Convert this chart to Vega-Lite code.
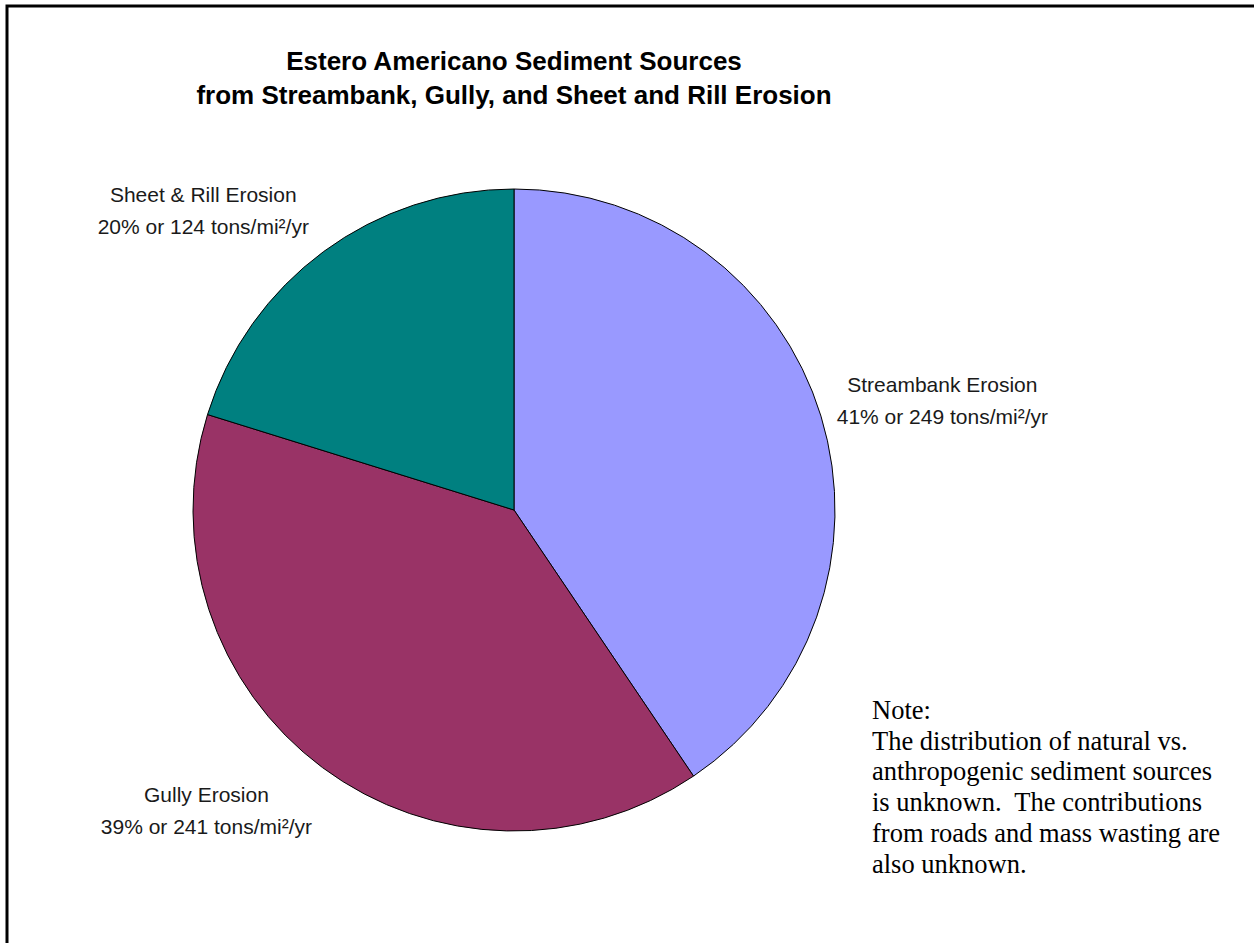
{
  "$schema": "https://vega.github.io/schema/vega-lite/v6.json",
  "width": 1260,
  "height": 950,
  "autosize": {"type": "none"},
  "padding": {"left": 7, "top": 6, "right": 0, "bottom": 0},
  "background": "white",
  "view": {"stroke": "black", "strokeWidth": 3, "fill": "white"},
  "title": {
    "text": ["Estero Americano Sediment Sources", "from Streambank, Gully, and Sheet and Rill Erosion"],
    "font": "Liberation Sans",
    "fontSize": 26,
    "fontWeight": "bold",
    "color": "black",
    "anchor": "middle",
    "frame": "group",
    "baseline": "top",
    "dx": -123,
    "offset": -103,
    "lineHeight": 34
  },
  "data": {
    "values": [
      {"source": "Streambank Erosion", "tons": 249, "pct": "41%", "order": 1},
      {"source": "Gully Erosion", "tons": 241, "pct": "39%", "order": 2},
      {"source": "Sheet & Rill Erosion", "tons": 124, "pct": "20%", "order": 3}
    ]
  },
  "layer": [
    {
      "mark": {"type": "arc", "outerRadius": 321, "x": 507, "y": 504, "stroke": "black", "strokeWidth": 1},
      "encoding": {
        "theta": {"field": "tons", "type": "quantitative", "stack": true},
        "order": {"field": "order", "type": "quantitative"},
        "color": {
          "field": "source",
          "type": "nominal",
          "scale": {"domain": ["Streambank Erosion", "Gully Erosion", "Sheet & Rill Erosion"], "range": ["#9999FF", "#993366", "#008080"]},
          "legend": null
        }
      }
    },
    {
      "transform": [{"calculate": "datum.source + '\\n' + datum.pct + ' or ' + datum.tons + ' tons/mi²/yr'", "as": "label"}],
      "mark": {
        "type": "text",
        "radius": 450,
        "x": 507,
        "y": 504,
        "font": "Liberation Sans",
        "fontSize": 21,
        "color": "#1a1a1a",
        "align": "center",
        "baseline": "middle",
        "lineBreak": "\n",
        "lineHeight": 32,
        "dx": {"expr": "datum.source == 'Streambank Erosion' ? -2 : datum.source == 'Gully Erosion' ? -39 : -44"},
        "dy": {"expr": "datum.source == 'Streambank Erosion' ? 8 : datum.source == 'Gully Erosion' ? -75 : 48"}
      },
      "encoding": {
        "theta": {"field": "tons", "type": "quantitative", "stack": true},
        "order": {"field": "order", "type": "quantitative"},
        "text": {"field": "label", "type": "nominal"}
      }
    },
    {
      "data": {"values": [{"id": 1}]},
      "mark": {
        "type": "text",
        "x": 865,
        "y": 713,
        "align": "left",
        "baseline": "alphabetic",
        "font": "Liberation Serif",
        "fontSize": 26.5,
        "lineHeight": 30.7,
        "color": "black",
        "text": ["Note:", "The distribution of natural vs.", "anthropogenic sediment sources", "is unknown.\u00a0 The contributions", "from roads and mass wasting are", "also unknown."]
      },
      "encoding": {}
    }
  ]
}
